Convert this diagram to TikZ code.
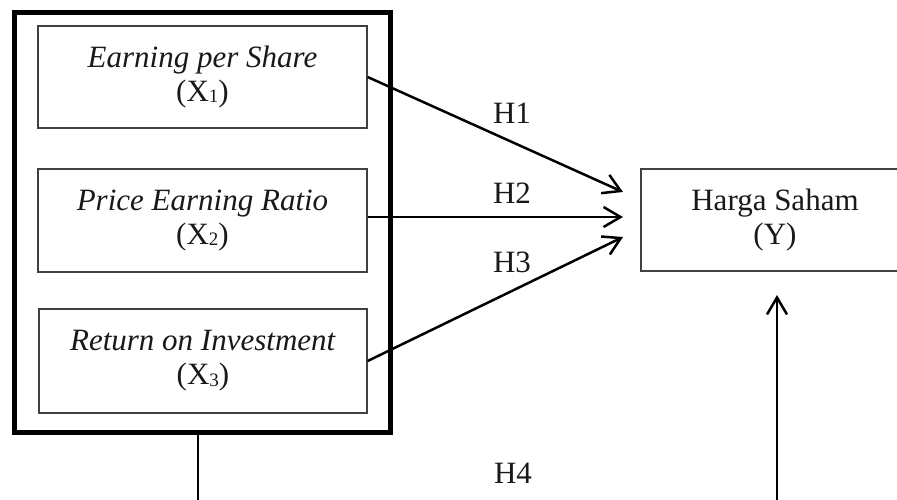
\documentclass[tikz,border=0pt]{standalone}
\usepackage{fontspec}
\setmainfont{Liberation Serif}
\usetikzlibrary{arrows.meta}
\newcommand\mysub[1]{\raisebox{-1.5pt}{\fontsize{19}{19}\selectfont #1}}
\begin{document}
\begin{tikzpicture}[x=1pt,y=-1pt,
  every node/.style={font=\fontsize{31}{34}\selectfont, text=black!90},
  varbox/.style={draw=black!75, line width=1.3pt, align=center, inner sep=0pt},
  outerbox/.style={draw=black, line width=4.5pt, inner sep=0pt},
  conn/.style={line width=2.5pt, -{Straight Barb[length=17pt,width=20pt]}},
  thinline/.style={line width=1.5pt}
]
\useasboundingbox (0,0) rectangle (897,499);
\clip (0,0) rectangle (897,499);
\fill[white] (0,0) rectangle (897,499);

\node[outerbox, minimum width=376pt, minimum height=420pt] (outer) at (202.5,222.5) {};
\node[varbox, minimum width=329pt, minimum height=102pt] (b1) at (202.5,77)
  {\textit{Earning per Share}\\(X\mysub{1})};
\node[varbox, minimum width=329pt, minimum height=103pt] (b2) at (202.5,220.5)
  {\textit{Price Earning Ratio}\\(X\mysub{2})};
\node[varbox, minimum width=328pt, minimum height=104pt] (b3) at (203,361)
  {\textit{Return on Investment}\\(X\mysub{3})};
\node[varbox, minimum width=268pt, minimum height=102pt] (y) at (775,220)
  {Harga Saham\\(Y)};

\coordinate (t1) at (623,192);
\coordinate (t2) at (623,217);
\coordinate (t3) at (623,237);
\coordinate (t4) at (777,295);
\coordinate (s4) at (777,520);
\coordinate (s0) at (198,520);

\draw[conn] (b1.east) -- (t1);
\draw[conn] (b2.east |- t2) -- (t2);
\draw[conn] (b3.east) -- (t3);
\draw[conn] (s4) -- (t4);
\draw[thinline] (outer.south -| s0) -- (s0);

\node (h1) at (512,113) {H1};
\node (h2) at (512,193) {H2};
\node (h3) at (512,262) {H3};
\node (h4) at (513,473) {H4};
\end{tikzpicture}
\end{document}
